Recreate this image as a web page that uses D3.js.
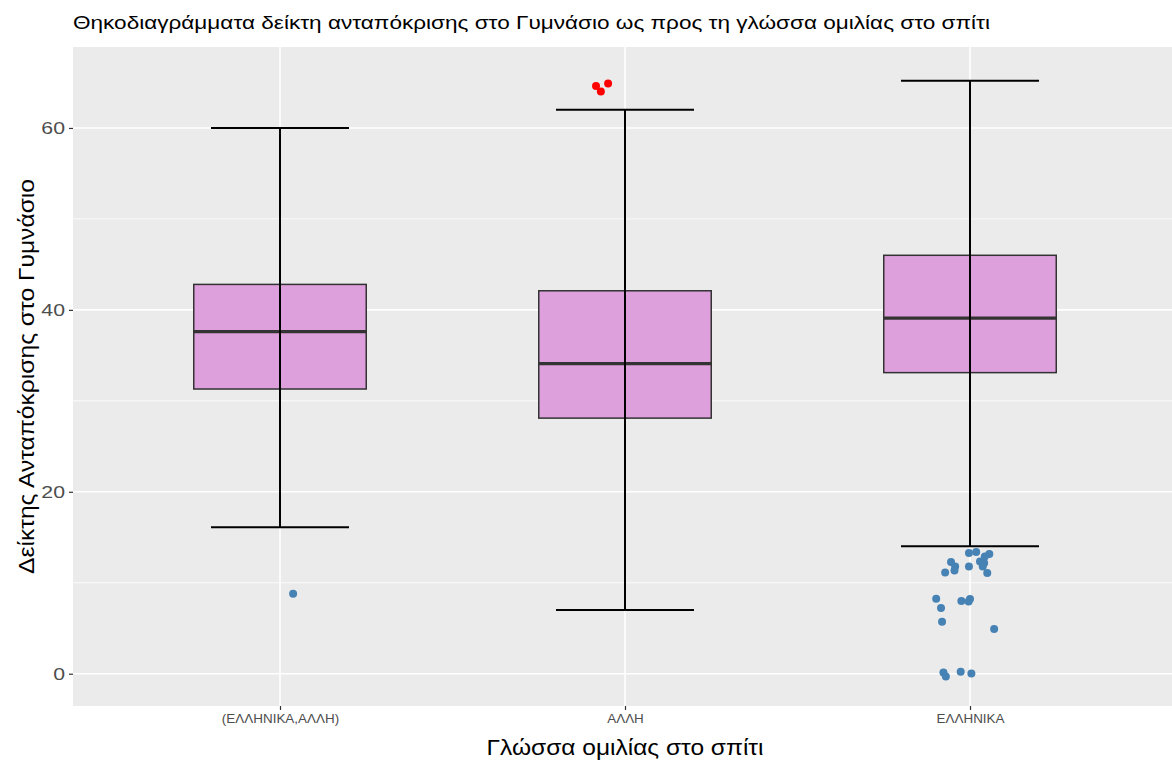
<!DOCTYPE html>
<html>
<head>
<meta charset="utf-8">
<script src="https://d3js.org/d3.v7.min.js"></script>
<style>
  body { margin: 0; background: #fff; }
  text { font-family: "Liberation Sans", Arial, sans-serif; }
</style>
</head>
<body>
<div id="my_dataviz"></div>
<script>
// categories and box statistics
var categories = ["(ΕΛΛΗΝΙΚΑ,ΑΛΛΗ)", "ΑΛΛΗ", "ΕΛΛΗΝΙΚΑ"];
var whiskerLow = [16.1, 7.0, 14.0];
var q1 = [31.3, 28.1, 33.1];
var median = [37.6, 34.1, 39.1];
var q3 = [42.8, 42.1, 46.0];
var whiskerHigh = [60.0, 62.0, 65.2];

// outliers: category, value, jitter (fraction of category step)
var outlierCat = ["(ΕΛΛΗΝΙΚΑ,ΑΛΛΗ)", "ΑΛΛΗ", "ΑΛΛΗ", "ΑΛΛΗ",
  "ΕΛΛΗΝΙΚΑ", "ΕΛΛΗΝΙΚΑ", "ΕΛΛΗΝΙΚΑ", "ΕΛΛΗΝΙΚΑ", "ΕΛΛΗΝΙΚΑ", "ΕΛΛΗΝΙΚΑ",
  "ΕΛΛΗΝΙΚΑ", "ΕΛΛΗΝΙΚΑ", "ΕΛΛΗΝΙΚΑ", "ΕΛΛΗΝΙΚΑ", "ΕΛΛΗΝΙΚΑ", "ΕΛΛΗΝΙΚΑ",
  "ΕΛΛΗΝΙΚΑ", "ΕΛΛΗΝΙΚΑ", "ΕΛΛΗΝΙΚΑ", "ΕΛΛΗΝΙΚΑ", "ΕΛΛΗΝΙΚΑ", "ΕΛΛΗΝΙΚΑ",
  "ΕΛΛΗΝΙΚΑ", "ΕΛΛΗΝΙΚΑ", "ΕΛΛΗΝΙΚΑ", "ΕΛΛΗΝΙΚΑ", "ΕΛΛΗΝΙΚΑ", "ΕΛΛΗΝΙΚΑ"];
var outlierValue = [8.8, 64.6, 64.0, 64.9,
  13.26, 13.37, 13.15, 12.89, 12.34, 12.16,
  11.79, 12.27, 11.79, 11.35, 11.13, 11.79,
  11.07, 8.24, 7.99, 8.21, 7.95, 7.22,
  5.71, 4.91, 0.14, -0.3, 0.22, 0.03];
var outlierJitter = [0.038, -0.084, -0.070, -0.049,
  -0.003, 0.018, 0.056, 0.043, 0.029, 0.041,
  0.037, -0.055, -0.043, -0.045, -0.072, -0.003,
  0.050, -0.098, -0.025, 0.000, -0.004, -0.084,
  -0.081, 0.070, -0.077, -0.070, -0.027, 0.004];
var outlierColor = ["#4682B4", "red", "red", "red"];

var yTicks = [0, 20, 40, 60];
var yMinor = [10, 30, 50];

var W = 1172, H = 761;
var panel = {left: 73, top: 47, right: 1177, bottom: 706};

var svg = d3.select("#my_dataviz").append("svg")
  .attr("width", W).attr("height", H);

svg.append("defs").append("clipPath").attr("id", "clip")
  .append("rect").attr("x", panel.left).attr("y", panel.top)
  .attr("width", W - panel.left).attr("height", panel.bottom - panel.top);

var x = d3.scalePoint().domain(categories)
  .range([panel.left, panel.right]).padding(0.6);
var step = x.step();
var y = d3.scaleLinear().domain([-3.55, 68.9]).range([panel.bottom, panel.top]);

var g = svg.append("g").attr("clip-path", "url(#clip)");

// panel background
g.append("rect").attr("x", panel.left).attr("y", panel.top)
  .attr("width", panel.right - panel.left).attr("height", panel.bottom - panel.top)
  .attr("fill", "#EBEBEB");

// grid
g.selectAll(".minor").data(yMinor).enter().append("line")
  .attr("x1", panel.left).attr("x2", panel.right)
  .attr("y1", d => y(d)).attr("y2", d => y(d))
  .attr("stroke", "#fff").attr("stroke-width", 0.8);
g.selectAll(".major").data(yTicks).enter().append("line")
  .attr("x1", panel.left).attr("x2", panel.right)
  .attr("y1", d => y(d)).attr("y2", d => y(d))
  .attr("stroke", "#fff").attr("stroke-width", 1.6);
g.selectAll(".vmajor").data(categories).enter().append("line")
  .attr("x1", d => x(d)).attr("x2", d => x(d))
  .attr("y1", panel.top).attr("y2", panel.bottom)
  .attr("stroke", "#fff").attr("stroke-width", 1.6);

var boxes = categories.map(function(c, i) {
  return {cat: c, lo: whiskerLow[i], q1: q1[i], med: median[i], q3: q3[i], hi: whiskerHigh[i]};
});

// boxes
g.selectAll(".box").data(boxes).enter().append("rect")
  .attr("x", d => x(d.cat) - step * 0.25)
  .attr("width", step * 0.5)
  .attr("y", d => y(d.q3))
  .attr("height", d => y(d.q1) - y(d.q3))
  .attr("fill", "#DDA0DD").attr("stroke", "#333333").attr("stroke-width", 1.5);
g.selectAll(".med").data(boxes).enter().append("line")
  .attr("x1", d => x(d.cat) - step * 0.25).attr("x2", d => x(d.cat) + step * 0.25)
  .attr("y1", d => y(d.med)).attr("y2", d => y(d.med))
  .attr("stroke", "#333333").attr("stroke-width", 3.2);

// whiskers (error bars drawn on top)
g.selectAll(".vline").data(boxes).enter().append("line")
  .attr("x1", d => x(d.cat)).attr("x2", d => x(d.cat))
  .attr("y1", d => y(d.lo)).attr("y2", d => y(d.hi))
  .attr("stroke", "#000").attr("stroke-width", 2);
["lo", "hi"].forEach(function(k) {
  g.selectAll(".cap" + k).data(boxes).enter().append("line")
    .attr("x1", d => x(d.cat) - step * 0.2).attr("x2", d => x(d.cat) + step * 0.2)
    .attr("y1", d => y(d[k])).attr("y2", d => y(d[k]))
    .attr("stroke", "#000").attr("stroke-width", 2);
});

// outliers
var pts = outlierValue.map(function(v, i) {
  return {cat: outlierCat[i], v: v, j: outlierJitter[i], col: outlierColor[i] || "#4682B4"};
});
g.selectAll(".pt").data(pts).enter().append("circle")
  .attr("cx", d => x(d.cat) + d.j * step)
  .attr("cy", d => y(d.v))
  .attr("r", 4)
  .attr("fill", d => d.col);

// the reference glyphs are wider than Liberation Sans: stretch horizontally
function stretch(sel, factor) {
  sel.each(function() {
    var w = this.getComputedTextLength();
    d3.select(this).attr("textLength", w * factor).attr("lengthAdjust", "spacingAndGlyphs");
  });
}

// axes
var yAxis = svg.append("g").attr("transform", "translate(" + panel.left + ",0)")
  .call(d3.axisLeft(y).tickValues(yTicks).tickSize(4).tickPadding(4));
yAxis.select(".domain").remove();
yAxis.selectAll(".tick line").attr("stroke", "#333").attr("stroke-width", 1.2);
yAxis.selectAll(".tick text").attr("fill", "#4D4D4D").style("font-size", "17px")
  .call(stretch, 1.25);

var xAxis = svg.append("g").attr("transform", "translate(0," + panel.bottom + ")")
  .call(d3.axisBottom(x).tickSize(4).tickPadding(4));
xAxis.select(".domain").remove();
xAxis.selectAll(".tick line").attr("stroke", "#333").attr("stroke-width", 1.2);
xAxis.selectAll(".tick text").attr("fill", "#4D4D4D").style("font-size", "12px")
  .call(stretch, 1.12);

// titles
svg.append("text").attr("x", panel.left).attr("y", 29)
  .style("font-size", "18.5px").attr("fill", "#000")
  .text("Θηκοδιαγράμματα δείκτη ανταπόκρισης στο Γυμνάσιο ως προς τη γλώσσα ομιλίας στο σπίτι")
  .attr("textLength", 917).attr("lengthAdjust", "spacingAndGlyphs");
svg.append("text").attr("x", x("ΑΛΛΗ")).attr("y", 755)
  .attr("text-anchor", "middle").style("font-size", "22px").attr("fill", "#000")
  .text("Γλώσσα ομιλίας στο σπίτι")
  .attr("textLength", 277).attr("lengthAdjust", "spacingAndGlyphs");
svg.append("text")
  .attr("transform", "translate(34," + ((panel.top + panel.bottom) / 2) + ") rotate(-90)")
  .attr("text-anchor", "middle").style("font-size", "22px").attr("fill", "#000")
  .text("Δείκτης Ανταπόκρισης στο Γυμνάσιο")
  .attr("textLength", 395).attr("lengthAdjust", "spacingAndGlyphs");
</script>
</body>
</html>
